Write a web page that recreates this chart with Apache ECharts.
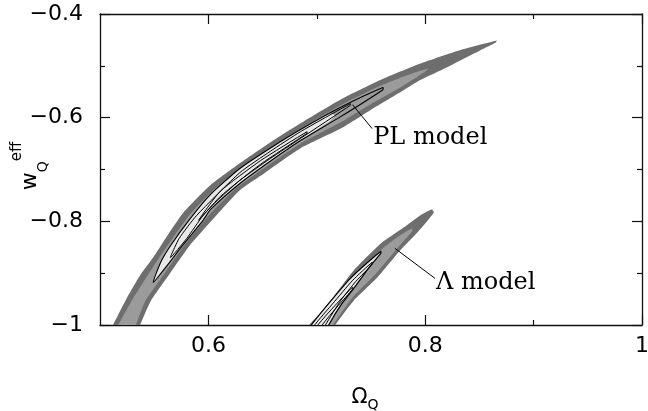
<!DOCTYPE html>
<html>
<head>
<meta charset="utf-8">
<script src="https://cdn.jsdelivr.net/npm/echarts@6/dist/echarts.min.js"></script>
<style>html,body{margin:0;padding:0;background:#fff}#c{width:648px;height:411px}</style>
</head>
<body>
<div id="c"></div>
<script>
// ---- axis ticks ----
const xTicksMajor = [0.6, 0.8, 1.0];
const xTicksMinor = [0.7, 0.9];
const yTicksMajor = [-1, -0.8, -0.6, -0.4];
const yTicksMinor = [-0.9, -0.7, -0.5];

// ---- PL model contours (Omega_Q, w_Q^eff) ----
const plOuter = [[0.507,-1.020],[0.512,-1.0],[0.525,-0.947],[0.537,-0.904],[0.549,-0.870],[0.563,-0.825],[0.577,-0.783],[0.602,-0.730],[0.629,-0.688],[0.657,-0.648],[0.685,-0.611],[0.722,-0.565],[0.759,-0.527],[0.795,-0.496],[0.832,-0.470],[0.855,-0.457],[0.866,-0.451],
  [0.865,-0.455],[0.851,-0.470],[0.832,-0.490],[0.814,-0.509],[0.795,-0.528],[0.777,-0.551],[0.749,-0.586],[0.722,-0.621],[0.685,-0.659],[0.651,-0.708],[0.629,-0.740],[0.605,-0.794],[0.583,-0.846],[0.565,-0.899],[0.547,-0.953],[0.537,-1.0],[0.534,-1.020]];
const plMid = [[0.513,-1.020],[0.517,-1.0],[0.531,-0.947],[0.554,-0.872],[0.582,-0.789],[0.606,-0.737],[0.632,-0.696],[0.657,-0.659],[0.685,-0.622],[0.722,-0.576],[0.759,-0.538],[0.786,-0.516],[0.803,-0.505],
  [0.800,-0.511],[0.777,-0.542],[0.749,-0.575],[0.722,-0.609],[0.685,-0.650],[0.651,-0.698],[0.625,-0.737],[0.600,-0.789],[0.579,-0.843],[0.560,-0.899],[0.542,-0.953],[0.533,-1.0],[0.529,-1.020]];
const plInner = [[0.549,-0.918],[0.556,-0.879],[0.565,-0.847],[0.582,-0.798],[0.602,-0.748],[0.629,-0.698],[0.657,-0.659],[0.685,-0.623],[0.712,-0.592],[0.717,-0.596],
  [0.712,-0.607],[0.685,-0.644],[0.657,-0.684],[0.629,-0.727],[0.602,-0.777],[0.595,-0.798],[0.576,-0.847],[0.562,-0.885]];
const plC1 = [[0.549,-0.918],[0.556,-0.879],[0.565,-0.847],[0.582,-0.798],[0.602,-0.748],[0.629,-0.698],[0.657,-0.659],[0.685,-0.623],[0.722,-0.580],[0.761,-0.542],
  [0.761,-0.546],[0.722,-0.598],[0.685,-0.644],[0.657,-0.684],[0.629,-0.727],[0.602,-0.777],[0.595,-0.798],[0.576,-0.847],[0.562,-0.885]];
const plC2 = [[0.565,-0.870],[0.573,-0.833],[0.589,-0.789],[0.629,-0.706],[0.657,-0.665],[0.685,-0.627],[0.731,-0.573],
  [0.731,-0.576],[0.685,-0.640],[0.657,-0.679],[0.629,-0.721],[0.606,-0.764],[0.595,-0.789],[0.580,-0.833]];
const plC3 = [[0.591,-0.798],[0.611,-0.742],[0.648,-0.683],[0.691,-0.627],[0.691,-0.630],[0.648,-0.690],[0.611,-0.752]];

// ---- Lambda model contours ----
const lamOuter = [[0.688,-1.020],[0.693,-1.0],[0.703,-0.978],[0.715,-0.947],[0.734,-0.895],[0.759,-0.843],[0.780,-0.812],[0.795,-0.789],[0.806,-0.777],
  [0.808,-0.783],[0.793,-0.821],[0.777,-0.856],[0.756,-0.908],[0.734,-0.953],[0.717,-1.0],[0.712,-1.020]];
const lamMid = [[0.696,-1.020],[0.701,-1.0],[0.720,-0.949],[0.738,-0.900],[0.761,-0.852],[0.777,-0.827],[0.788,-0.814],
  [0.788,-0.819],[0.775,-0.850],[0.754,-0.902],[0.733,-0.947],[0.715,-1.0],[0.711,-1.020]];
const lamC1 = [[0.690,-1.020],[0.695,-1.0],[0.712,-0.956],[0.731,-0.910],[0.747,-0.879],[0.759,-0.858],
  [0.759,-0.862],[0.749,-0.887],[0.736,-0.924],[0.722,-0.962],[0.711,-1.0],[0.707,-1.020]];
const lamC2 = [[0.693,-1.020],[0.698,-1.0],[0.715,-0.958],[0.733,-0.914],[0.751,-0.879],
  [0.751,-0.883],[0.736,-0.916],[0.722,-0.953],[0.708,-1.0],[0.704,-1.020]];
const lamC3 = [[0.697,-1.020],[0.701,-1.0],[0.717,-0.962],[0.733,-0.927],
  [0.733,-0.931],[0.720,-0.962],[0.705,-1.0],[0.701,-1.020]];

// ---- annotations ----
const annotNames = ['PL model', 'Λ model'];
const annotTextPos = [[0.752,-0.638],[0.810,-0.918]];
const annotLeaderFrom = [[0.733,-0.575],[0.772,-0.852]];
const annotLeaderTo = [[0.751,-0.621],[0.809,-0.910]];

const DARK = '#6e6e6e', MID = '#9b9b9b', LIGHT = '#e8e8e8';

function polySeries(pts, fill, stroke, lw, z) {
  return {
    type: 'custom', coordinateSystem: 'cartesian2d', xAxisIndex: 0, yAxisIndex: 0,
    clip: true, silent: true, z: z, data: [pts[0]],
    renderItem: function (params, api) {
      return {
        type: 'polygon',
        shape: { points: pts.map(function (p) { return api.coord(p); }), smooth: 0.18 },
        style: { fill: fill || 'none', stroke: stroke || 'none', lineWidth: lw || 0 }
      };
    }
  };
}

const annotSeries = {
  type: 'custom', coordinateSystem: 'cartesian2d', xAxisIndex: 0, yAxisIndex: 0,
  silent: true, z: 10, data: annotTextPos,
  renderItem: function (params, api) {
    const i = params.dataIndex;
    const a = api.coord(annotLeaderFrom[i]), b = api.coord(annotLeaderTo[i]), t = api.coord(annotTextPos[i]);
    return {
      type: 'group',
      children: [
        { type: 'line', shape: { x1: a[0], y1: a[1], x2: b[0], y2: b[1] }, style: { stroke: '#000', lineWidth: 1 } },
        { type: 'text', x: t[0], y: t[1], style: { text: annotNames[i], fill: '#000', font: '24px "DejaVu Serif"', textAlign: 'left', textVerticalAlign: 'middle' } }
      ]
    };
  }
};

const axisFont = 'DejaVu Sans';
function fmt(v) {
  const r = Math.round(v * 10) / 10;
  let s = (r === 1 || r === -1) ? String(Math.abs(r)) : Math.abs(r).toFixed(1);
  return (r < 0 ? '\u2212' : '') + s;
}
function xAxisDef(pos, ticks, len, showLine, showLabel, name) {
  const o = {
    type: 'value', position: pos, min: 0.5, max: 1, interval: 0.1, gridIndex: 0,
    axisLine: { show: showLine, onZero: false, lineStyle: { color: '#111', width: 1.3 } },
    axisTick: { show: true, inside: true, length: len, customValues: ticks, lineStyle: { color: '#111', width: 1.2 } },
    axisLabel: { show: showLabel, customValues: xTicksMajor, formatter: fmt, margin: 10, color: '#000', fontFamily: axisFont, fontSize: 22, showMinLabel: true, showMaxLabel: true },
    splitLine: { show: false }
  };
  if (name) {
    o.name = '{o|Ω}{q|Q}';
    o.nameLocation = 'middle';
    o.nameGap = 59;
    o.nameTextStyle = { padding: [0, 12, 0, 0], rich: {
      o: { fontFamily: axisFont, fontSize: 21, color: '#000', lineHeight: 28, verticalAlign: 'middle' },
      q: { fontFamily: axisFont, fontSize: 14, color: '#000', lineHeight: 14, verticalAlign: 'bottom' }
    } };
  }
  return o;
}
function yAxisDef(pos, ticks, len, showLine, showLabel) {
  return {
    type: 'value', position: pos, min: -1, max: -0.4, interval: 0.1, gridIndex: 0,
    axisLine: { show: showLine, onZero: false, lineStyle: { color: '#111', width: 1.3 } },
    axisTick: { show: true, inside: true, length: len, customValues: ticks, lineStyle: { color: '#111', width: 1.2 } },
    axisLabel: { show: showLabel, customValues: yTicksMajor, formatter: fmt, margin: 17, color: '#000', fontFamily: axisFont, fontSize: 22, showMinLabel: true, showMaxLabel: true },
    splitLine: { show: false }
  };
}

const chart = echarts.init(document.getElementById('c'), null, { renderer: 'canvas' });
chart.setOption({
  animation: false,
  backgroundColor: '#fff',
  grid: { left: 100, right: 6, top: 14, bottom: 86, containLabel: false, outerBoundsMode: 'none' },
  graphic: [{
    type: 'text', x: 30, y: 166, rotation: Math.PI / 2, silent: true,
    style: {
      text: '{w|w}{q|Q}{e|eff}', align: 'center', verticalAlign: 'middle',
      rich: {
        w: { fontFamily: axisFont, fontSize: 22, fill: '#000', lineHeight: 40, verticalAlign: 'middle' },
        q: { fontFamily: axisFont, fontSize: 14, fill: '#000', lineHeight: 14, verticalAlign: 'bottom' },
        e: { fontFamily: axisFont, fontSize: 15, fill: '#000', lineHeight: 15, verticalAlign: 'top' }
      }
    }
  }],
  xAxis: [
    xAxisDef('bottom', xTicksMajor, 10, true, true, true),
    xAxisDef('bottom', xTicksMinor, 5, false, false, false),
    xAxisDef('top', xTicksMajor, 10, true, false, false),
    xAxisDef('top', xTicksMinor, 5, false, false, false)
  ],
  yAxis: [
    yAxisDef('left', yTicksMajor, 10, true, true),
    yAxisDef('left', yTicksMinor, 5, false, false),
    yAxisDef('right', yTicksMajor, 10, true, false),
    yAxisDef('right', yTicksMinor, 5, false, false)
  ],
  series: [
    polySeries(plOuter, DARK, null, 0, 1),
    polySeries(plMid, MID, null, 0, 2),
    polySeries(plInner, LIGHT, null, 0, 3),
    polySeries(plC1, 'none', '#000', 1.1, 4),
    polySeries(plC2, 'none', '#000', 1, 5),
    polySeries(plC3, 'none', '#000', 1, 6),
    polySeries(lamOuter, DARK, null, 0, 1),
    polySeries(lamMid, MID, null, 0, 2),
    polySeries(lamC1, LIGHT, '#000', 1.2, 4),
    polySeries(lamC2, 'none', '#000', 1, 5),
    polySeries(lamC3, 'none', '#000', 1, 6),
    annotSeries
  ]
});
</script>
</body>
</html>
